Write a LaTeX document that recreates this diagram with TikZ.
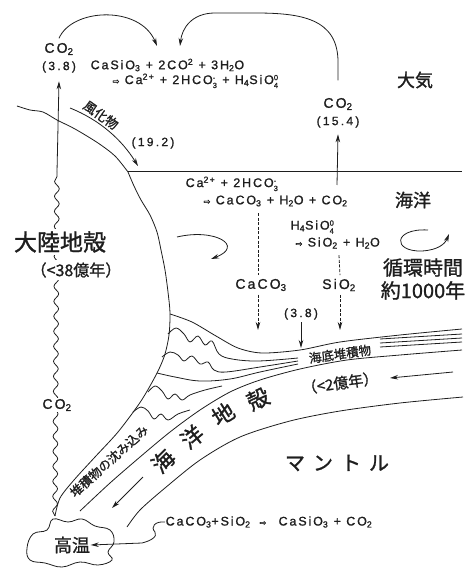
\documentclass[tikz,border=0pt]{standalone}
\usepackage{fontspec}
\setmainfont{Liberation Sans}
\newfontfamily\chemfam[LetterSpace=15,FakeBold=1.2]{Liberation Sans}
\newfontfamily\numfam[LetterSpace=19,FakeBold=1.2]{Liberation Sans}
\newfontfamily\jpfam[FakeBold=1.2]{Noto Sans CJK JP}
\newfontfamily\symfam[FakeBold=1]{DejaVu Sans}
\usetikzlibrary{arrows.meta,decorations.pathmorphing}

\definecolor{ink}{HTML}{1E1E1E}

\newcommand\chemfont[1]{\chemfam\fontsize{#1}{#1}\selectfont}
\newcommand\jpfont[1]{\jpfam\fontsize{#1}{#1}\selectfont}
\newcommand\numfont{\numfam\fontsize{12}{12}\selectfont}
\newcommand\chlo[1]{\textsubscript{#1}}
\newcommand\chhi[1]{\textsuperscript{#1}}
% charge written above the atom count
\newcommand\chion[2]{\raisebox{-0.6ex}{\fontsize{7.5}{7.5}\selectfont\renewcommand\arraystretch{1.05}%
  \begin{tabular}[b]{@{}l@{}}#2\\#1\end{tabular}}}
\newcommand\chyields{{\symfam\fontsize{8}{8}\selectfont ⇨}}

\tikzset{
  ln/.style={draw=ink, line width=0.8pt},
  arw/.style={ln, -{Stealth[length=8pt,width=4.5pt]}},
  dsh/.style={ln, dash pattern=on 3pt off 1.6pt},
  chem/.style={text=ink, inner sep=0.5pt, font=\chemfont{12.5}},
  bigchem/.style={text=ink, inner sep=0.5pt, font=\chemfont{14}},
  numl/.style={text=ink, inner sep=0.5pt, font=\numfont},
  jp/.style={text=ink, inner sep=0.5pt},
  wave/.style={ln, decorate, decoration={snake, amplitude=2.4pt, segment length=15pt}},
  cover/.style={fill=white, inner sep=2pt}
}

\begin{document}
\begin{tikzpicture}[x=1pt,y=-1pt]
\useasboundingbox (0,0) rectangle (467,569);

% ---------- atmosphere ----------
\node[bigchem] (co2l) at (59,49) {CO\chlo{2}};
\node[numl] (r38a) at (59,67) {(3.8)};
\node[chem, anchor=west] (eqA) at (90,65) {CaSiO\chlo{3} + 2CO\chhi{2} + 3H\chlo{2}O};
\node[chem, anchor=west] (eqB) at (112,82) {\chyields\ Ca\chhi{2+} + 2HCO\chion{3}{-} + H\chlo{4}SiO\chion{4}{0}};
\node[bigchem] (co2r) at (338,104) {CO\chlo{2}};
\node[numl] (r154) at (338,122) {(15.4)};
\node[jp, font=\jpfont{18}] (atm) at (415,80) {大気};

\coordinate (inA) at (157,46);
\coordinate (inB) at (180,46);
\draw[arw] ([yshift=4pt]co2l.north) .. controls (72,8) and (140,5) .. (inA);
\draw[arw] ([yshift=17pt]co2r.north) -- (338,62) .. controls (338,18) and (300,13) .. (255,13)
  -- (215,13) .. controls (192,13) and (182,28) .. (inB);

% ---------- land surface and sea level ----------
\coordinate (shore) at (128,172);
\coordinate (seaE) at (462,172);
\coordinate (blobtop) at (55,516);
\draw[ln] plot[smooth] coordinates {(17,106) (30,110) (43,112) (57,120) (75,129) (98,143) (115,156) (128,172)};
\draw[ln, line width=1pt] (shore) -- (seaE);

% continental margin down to the hot zone
\draw[ln] plot[smooth] coordinates {(128,172) (134,186) (141,200) (150,215) (157,232) (161,250) (165,270)
  (168,292) (170,313) (169,335) (165,354) (159,369) (150,386) (139,404) (118,432) (95,457) (74,480)
  (60,498) (55,516)};

% degassing path through the continent
\coordinate (rise) at (57,172);
\draw[wave] (blobtop) -- (rise);
\draw[arw] (rise) -- ([yshift=-8pt]r38a.south);

\node[jp, cover, font=\jpfont{23}] (cont) at (60,242) {大陸地殻};
\node[jp, cover, font=\jpfont{16}] (contage) at (76,270) {（<38億年）};
\node[bigchem, cover, inner sep=1pt] (co2b) at (57,405) {CO\chlo{2}};

% weathering products
\node[jp, font=\jpfont{13}, rotate=-35] (wth) at (101,115) {風化物};
\node[numl] (r192) at (153,143) {(19.2)};
\coordinate (wthEnd) at (138,166);
\draw[arw] (70,108) .. controls (100,120) and (122,140) .. (wthEnd);

% ---------- ocean ----------
\node[chem, anchor=west] (eqC) at (185,185) {Ca\chhi{2+} + 2HCO\chion{3}{-}};
\node[chem, anchor=west] (eqD) at (203,201) {\chyields\ CaCO\chlo{3} + H\chlo{2}O + CO\chlo{2}};
\node[chem, anchor=west] (eqE) at (290,228) {H\chlo{4}SiO\chion{4}{0}};
\node[chem, anchor=west] (eqF) at (295,243) {\chyields\ SiO\chlo{2} + H\chlo{2}O};
\node[jp, font=\jpfont{18}] (sea) at (413,200) {海洋};
\node[jp, font=\jpfont{20}, align=center] (cyc) at (423,279) {循環時間\\[3pt]約1000年};

\node[bigchem] (caco) at (261,285) {CaCO\chlo{3}};
\node[bigchem] (sio) at (339,285) {SiO\chlo{2}};
\node[numl] (r38b) at (301,314) {(3.8)};
\coordinate (cacoEnd) at (258,330);
\coordinate (sioEnd) at (340,330);
\coordinate (r38End) at (301,348);
\coordinate (upStart) at (337,185);

\draw[dsh] (eqD.south -| caco.north) ++(-3,6) -- ([yshift=3pt]caco.north -| 258,0);
\draw[dsh, -{Stealth[length=8pt,width=4.5pt]}] ([yshift=-3pt]caco.south -| 258,0) -- (cacoEnd);
\draw[dsh] (eqF.south -| sio.north) ++(0,6) -- ([yshift=3pt]sio.north -| 340,0);
\draw[dsh, -{Stealth[length=8pt,width=4.5pt]}] ([yshift=-3pt]sio.south -| 340,0) -- (sioEnd);
\draw[arw] ([yshift=-2pt]r38b.south) -- (r38End);
\draw[arw] (upStart) -- ([yshift=-6pt]r154.south);

% mixing arrows
\coordinate (hookA) at (177,237);
\coordinate (hookB) at (211,259);
\draw[arw] (hookA) .. controls (215,228) and (245,246) .. (hookB);
\coordinate (loopA) at (428,230);
\coordinate (loopB) at (449,234);
\draw[arw] (loopA) .. controls (393,228) and (392,252) .. (422,251) .. controls (438,250) and (445,244) .. (loopB);

% ---------- sea-floor sediments ----------
\draw[ln] plot[smooth] coordinates {(170,314) (192,322) (216,336) (238,348) (262,353) (300,350) (340,342) (400,335) (462,329)};
\draw[ln] plot[smooth, tension=0.6] coordinates {(168,334) (176,328) (184,334) (190,342) (198,336) (205,345) (212,341) (219,354) (232,359) (258,361) (298,358)};
\draw[ln] plot[smooth, tension=0.6] coordinates {(162,357) (170,352) (178,355) (184,361) (192,356) (200,364) (208,362) (214,370) (226,372) (260,367) (298,361)};
\draw[ln] plot[smooth, tension=0.6] coordinates {(157,373) (175,377) (200,381) (230,379) (260,372) (298,364)};
\draw[ln] plot[smooth, tension=0.6] coordinates {(148,392) (155,386) (162,391) (168,399) (175,394) (182,400) (190,395) (205,390) (222,386)};
\draw[ln] plot[smooth, tension=0.6] coordinates {(133,412) (141,407) (148,411) (154,419) (161,414) (168,420) (178,414) (190,410)};
\draw[ln] (380,339) -- (462,334);
\draw[ln] (380,343) -- (462,338);
\draw[ln] (380,347) -- (462,342);
\node[jp, font=\jpfont{12.5}, rotate=8] (sed) at (340,354) {海底堆積物};

% ---------- oceanic crust ----------
\draw[ln] plot[smooth] coordinates {(462,350) (400,355) (347,360) (300,369) (260,380) (230,392) (200,410) (170,432) (140,457) (110,483) (80,511)};
\draw[ln] plot[smooth] coordinates {(463,397) (400,403) (340,411) (290,421) (240,437) (200,460) (165,488) (140,510) (127,527)};

\node[jp, font=\jpfont{12.5}, rotate=42] (subd) at (109,461) {堆積物の沈み込み};
\node[jp, font=\jpfont{22}, rotate=45] (cA) at (163,461) {海};
\node[jp, font=\jpfont{22}, rotate=39] (cB) at (192,437) {洋};
\node[jp, font=\jpfont{22}, rotate=32] (cC) at (223,414) {地};
\node[jp, font=\jpfont{22}, rotate=25] (cD) at (258,399) {殻};
\node[jp, font=\jpfont{15}, rotate=8] (crustage) at (340,383) {（<2億年）};

\coordinate (mvA) at (453,372);
\coordinate (mvB) at (390,378);
\draw[arw] (mvA) -- (mvB);
\coordinate (mvC) at (143,477);
\coordinate (mvD) at (112,508);
\draw[arw] (mvC) -- (mvD);

% ---------- mantle ----------
\node[jp, font=\jpfont{20}] (mantle) at (337,463) {マ\hspace{8pt}ン\hspace{8pt}ト\hspace{8pt}ル};

% hot zone
\draw[ln] plot[smooth cycle, tension=0.7] coordinates {(27,548) (33,534) (47,530) (53,519) (68,522) (82,519)
  (95,526) (110,530) (114,542) (108,552) (112,560) (98,565) (80,562) (62,567) (45,563) (30,560)};
\node[jp, font=\jpfont{18}] (hot) at (72,545) {高温};

\node[chem, anchor=west] (eqG) at (165,522) {CaCO\chlo{3}+SiO\chlo{2}\hspace{9pt}\chyields\hspace{7pt} CaSiO\chlo{3} + CO\chlo{2}};
\draw[arw] (eqG.west) .. controls (155,521) and (150,527) .. (155,532)
  .. controls (158,537) and (150,541) .. (142,543) -- (hot.east);

\end{tikzpicture}
\end{document}
